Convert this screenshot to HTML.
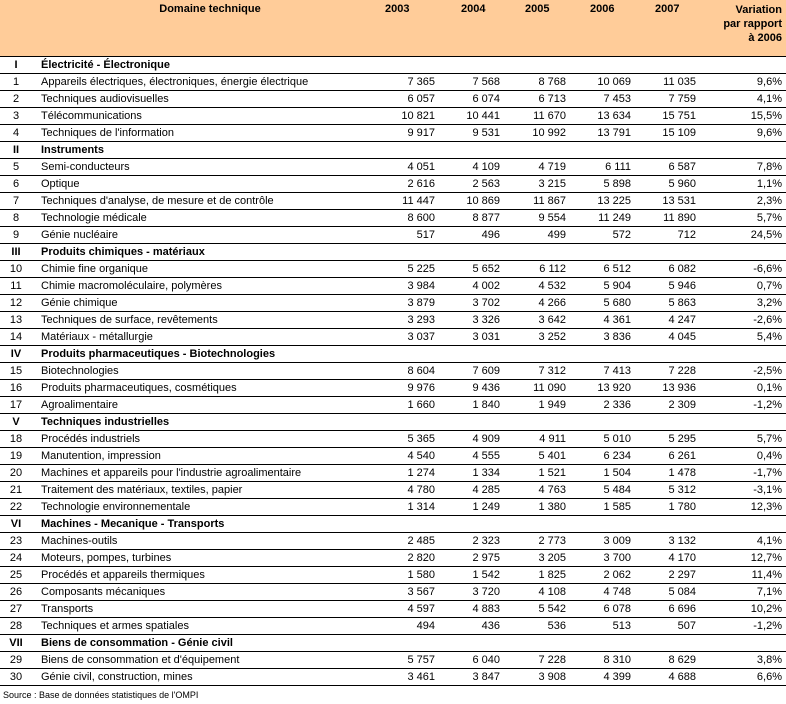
<!DOCTYPE html>
<html><head><meta charset="utf-8"><style>
body{margin:0;width:786px;height:704px;background:#fff;font-family:"Liberation Sans",sans-serif;font-size:11px;color:#000;position:relative;overflow:hidden}
.hd{position:absolute;left:0;top:0;width:786px;height:56px;background:#FFCC99;border-bottom:1px solid #000;font-weight:bold}
.hd span{position:absolute;top:3px}
.r{position:absolute;left:0;width:786px;height:16px;border-bottom:1px solid #000}
.r span{position:absolute;top:2px;white-space:nowrap}
.n{left:0;width:32px;text-align:center}
.l{left:41px}
.v{text-align:right}
.b{font-weight:bold}
</style></head><body>
<div class="hd">
<span style="left:150px;width:120px;text-align:center">Domaine technique</span>
<span style="left:385px">2003</span><span style="left:461px">2004</span><span style="left:525px">2005</span><span style="left:590px">2006</span><span style="left:655px">2007</span>
<span style="right:4px;text-align:right;line-height:14px">Variation<br>par rapport<br>à 2006</span>
</div>
<div id="rows"></div>
<div style="position:absolute;left:3px;top:690px;font-size:9px">Source : Base de données statistiques de l'OMPI</div>
<script>
var d=[
["I","Électricité - Électronique"],
["1","Appareils électriques, électroniques, énergie électrique","7 365","7 568","8 768","10 069","11 035","9,6%"],
["2","Techniques audiovisuelles","6 057","6 074","6 713","7 453","7 759","4,1%"],
["3","Télécommunications","10 821","10 441","11 670","13 634","15 751","15,5%"],
["4","Techniques de l'information","9 917","9 531","10 992","13 791","15 109","9,6%"],
["II","Instruments"],
["5","Semi-conducteurs","4 051","4 109","4 719","6 111","6 587","7,8%"],
["6","Optique","2 616","2 563","3 215","5 898","5 960","1,1%"],
["7","Techniques d'analyse, de mesure et de contrôle","11 447","10 869","11 867","13 225","13 531","2,3%"],
["8","Technologie médicale","8 600","8 877","9 554","11 249","11 890","5,7%"],
["9","Génie nucléaire","517","496","499","572","712","24,5%"],
["III","Produits chimiques - matériaux"],
["10","Chimie fine organique","5 225","5 652","6 112","6 512","6 082","-6,6%"],
["11","Chimie macromoléculaire, polymères","3 984","4 002","4 532","5 904","5 946","0,7%"],
["12","Génie chimique","3 879","3 702","4 266","5 680","5 863","3,2%"],
["13","Techniques de surface, revêtements","3 293","3 326","3 642","4 361","4 247","-2,6%"],
["14","Matériaux - métallurgie","3 037","3 031","3 252","3 836","4 045","5,4%"],
["IV","Produits pharmaceutiques - Biotechnologies"],
["15","Biotechnologies","8 604","7 609","7 312","7 413","7 228","-2,5%"],
["16","Produits pharmaceutiques, cosmétiques","9 976","9 436","11 090","13 920","13 936","0,1%"],
["17","Agroalimentaire","1 660","1 840","1 949","2 336","2 309","-1,2%"],
["V","Techniques industrielles"],
["18","Procédés industriels","5 365","4 909","4 911","5 010","5 295","5,7%"],
["19","Manutention, impression","4 540","4 555","5 401","6 234","6 261","0,4%"],
["20","Machines et appareils pour l'industrie agroalimentaire","1 274","1 334","1 521","1 504","1 478","-1,7%"],
["21","Traitement des matériaux, textiles, papier","4 780","4 285","4 763","5 484","5 312","-3,1%"],
["22","Technologie environnementale","1 314","1 249","1 380","1 585","1 780","12,3%"],
["VI","Machines - Mecanique - Transports"],
["23","Machines-outils","2 485","2 323","2 773","3 009","3 132","4,1%"],
["24","Moteurs, pompes, turbines","2 820","2 975","3 205","3 700","4 170","12,7%"],
["25","Procédés et appareils thermiques","1 580","1 542","1 825","2 062","2 297","11,4%"],
["26","Composants mécaniques","3 567","3 720","4 108","4 748","5 084","7,1%"],
["27","Transports","4 597","4 883","5 542","6 078","6 696","10,2%"],
["28","Techniques et armes spatiales","494","436","536","513","507","-1,2%"],
["VII","Biens de consommation - Génie civil"],
["29","Biens de consommation et d'équipement","5 757","6 040","7 228","8 310","8 629","3,8%"],
["30","Génie civil, construction, mines","3 461","3 847","3 908","4 399","4 688","6,6%"]];
var R=[435,500,566,631,696,782],h="";
d.forEach(function(r,i){
 var s=r.length==2;
 h+='<div class="r" style="top:'+(57+i*17)+'px"><span class="n'+(s?' b':'')+'">'+r[0]+'</span><span class="l'+(s?' b':'')+'">'+r[1]+'</span>';
 if(!s)for(var j=0;j<6;j++)h+='<span class="v" style="right:'+(786-R[j])+'px">'+r[j+2]+'</span>';
 h+='</div>';
});
document.getElementById('rows').innerHTML=h;
</script>
</body></html>
